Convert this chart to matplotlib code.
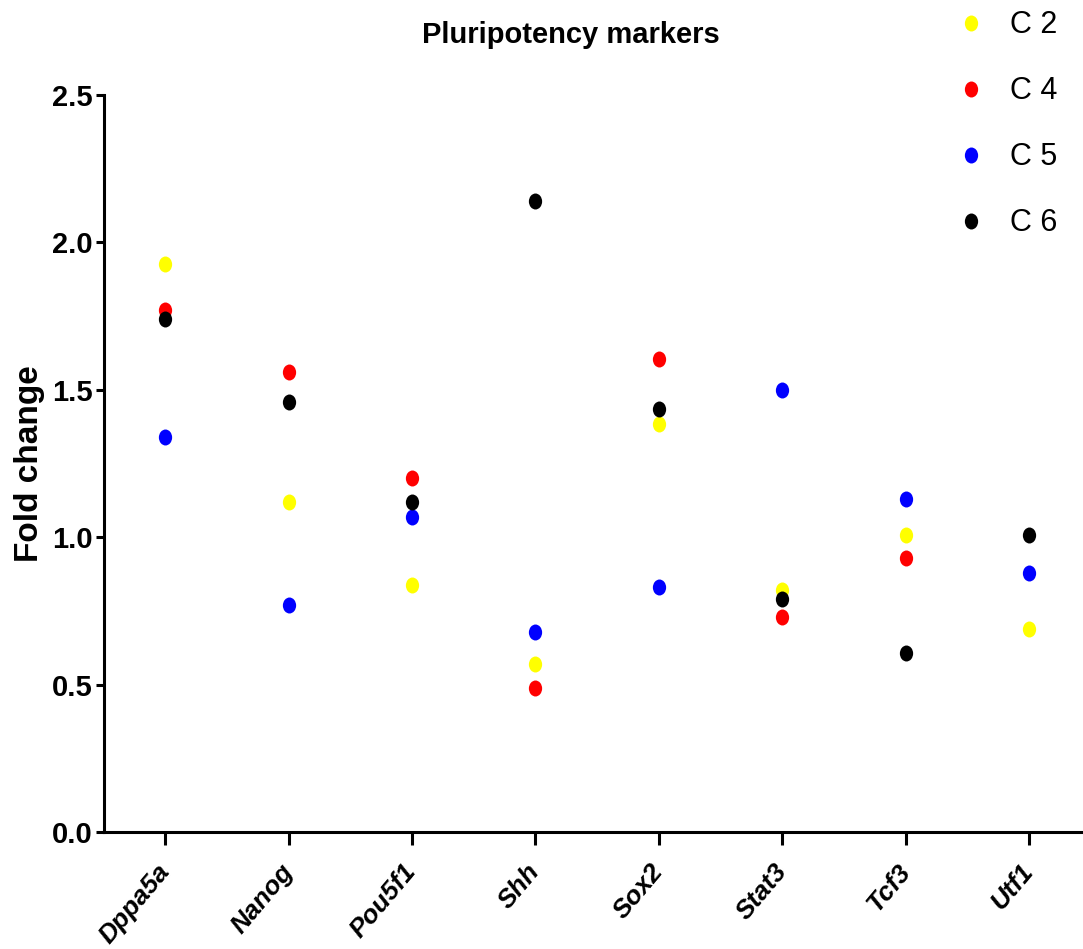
import matplotlib
matplotlib.use("Agg")
import matplotlib.pyplot as plt
import numpy as np
from matplotlib.path import Path
from matplotlib.transforms import Affine2D
from matplotlib.lines import Line2D

genes = ["Dppa5a", "Nanog", "Pou5f1", "Shh", "Sox2", "Stat3", "Tcf3", "Utf1"]
c2 = [1.928, 1.119, 0.838, 0.569, 1.384, 0.821, 1.008, 0.689]
c4 = [1.771, 1.559, 1.200, 0.490, 1.605, 0.730, 0.930, np.nan]
c5 = [1.339, 0.769, 1.068, 0.680, 0.831, 1.500, 1.130, 0.879]
c6 = [1.740, 1.459, 1.120, 2.140, 1.435, 0.791, 0.608, 1.008]
series_names = ["C 2", "C 4", "C 5", "C 6"]
series_colors = ["#ffff00", "#ff0000", "#0000ff", "#000000"]
yticks = [0.0, 0.5, 1.0, 1.5, 2.0, 2.5]

plt.rcParams["font.family"] = ["Liberation Sans", "DejaVu Sans"]
narrow = ["Liberation Sans Narrow", "Liberation Sans", "DejaVu Sans"]

# slightly tall oval marker
oval = Path.unit_circle().transformed(Affine2D().scale(0.83, 1.0))

fig = plt.figure(figsize=(10.83, 9.49), dpi=100)
ax = fig.add_axes([103.5 / 1083, 117 / 949, (1083 - 103.5) / 1083, 737 / 949])

x = np.arange(len(genes))
for vals, name, col in zip([c2, c4, c5, c6], series_names, series_colors):
    ax.plot(x, vals, linestyle="none", marker=oval, markersize=11.5,
            markerfacecolor=col, markeredgecolor=col, markeredgewidth=0,
            label=name)

ax.set_xlim(-0.5, 7.437)
ax.set_ylim(0, 2.5)
ax.set_yticks(yticks)
ax.set_yticklabels([f"{v:.1f}" for v in yticks], fontsize=21, fontweight="bold",
                   family=narrow)
ax.set_xticks(x)
ax.set_xticklabels(genes, fontsize=19, fontweight="bold", fontstyle="italic",
                   rotation=50, ha="right", va="center", rotation_mode="anchor")

for s in ["top", "right"]:
    ax.spines[s].set_visible(False)
for s in ["left", "bottom"]:
    ax.spines[s].set_linewidth(2.2)
ax.tick_params(axis="y", length=6, width=2.2, pad=2)
ax.tick_params(axis="x", length=9.5, width=2.2, pad=16)

ax.set_ylabel("Fold change", fontsize=24, fontweight="bold")
ax.yaxis.set_label_coords(-0.06, 0.5)

fig.text(571 / 1083, 1 - 35 / 949, "Pluripotency markers", fontsize=21,
         fontweight="bold", ha="center", va="center", family=narrow)

handles = [Line2D([], [], linestyle="none", marker=oval, markersize=11.5,
                  markerfacecolor=c, markeredgewidth=0) for c in series_colors]
fig.legend(handles, series_names, loc="upper left",
           bbox_to_anchor=(943 / 1083, 1 + 2 / 949), frameon=False,
           prop={"family": narrow, "size": 22}, labelspacing=1.18,
           handletextpad=0.8, handlelength=1.0, borderaxespad=0)

fig.savefig("out.png", dpi=100)
